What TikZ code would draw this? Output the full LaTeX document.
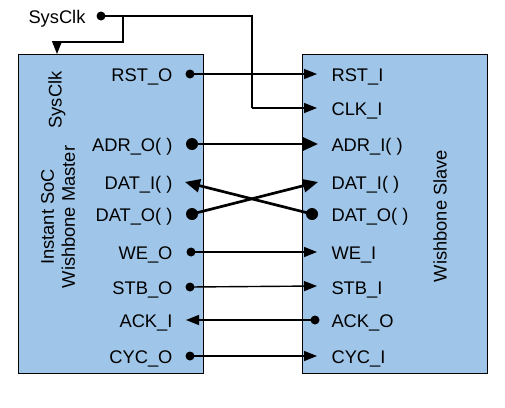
\documentclass[tikz,border=0pt]{standalone}
\usepackage{fontspec}
\setmainfont{Liberation Sans}
\usetikzlibrary{arrows.meta}
\definecolor{boxblue}{HTML}{9FC5E8}
\begin{document}
\begin{tikzpicture}[x=1pt,y=-1pt,
  font=\fontsize{18.3}{21}\selectfont,
  blk/.style={draw=black, line width=1pt, fill=boxblue, inner sep=0pt, anchor=north west},
  wire/.style={line width=1.4pt, -{Triangle[length=13pt,width=10pt]}},
  bus/.style={line width=2.7pt, -{Triangle[length=15pt,width=13pt]}},
  plain/.style={line width=1.4pt},
  dot/.style={circle, fill=black, inner sep=0pt, minimum size=9pt},
  bigdot/.style={circle, fill=black, inner sep=0pt, minimum size=12pt},
  lpin/.style={anchor=base east},
  rpin/.style={anchor=base west}]
\useasboundingbox (0,0) rectangle (505,407);
\fill[white] (0,0) rectangle (505,407);

% blocks
\node[blk, minimum width=185pt, minimum height=319pt] (master) at (18,54) {};
\node[blk, minimum width=185pt, minimum height=319pt] (slave) at (302,54) {};

% block titles
\node[rotate=90] (mclk) at (57,100) {SysClk};
\node[rotate=90, align=center] (mtitle) at (58,217) {Instant SoC\\Wishbone Master};
\node[rotate=90] (stitle) at (440,216) {Wishbone Slave};

% SysClk source
\node[anchor=base east] (sysclk) at (89,23) {SysClk};
\node[dot] (sdot) at (101,16) {};
\coordinate (c1) at (252,16);
\coordinate (c2) at (252,108);
\coordinate (b1) at (123,16);
\coordinate (b2) at (123,42);
\coordinate (b3) at (57,42);
\coordinate (b4) at (57,54);

% master pin labels
\node[lpin] (mRST) at (176,81) {RST\_O};
\node[lpin] (mADR) at (176,151) {ADR\_O( )};
\node[lpin] (mDATI) at (176,189) {DAT\_I( )};
\node[lpin] (mDATO) at (176,221) {DAT\_O( )};
\node[lpin] (mWE) at (176,259) {WE\_O};
\node[lpin] (mSTB) at (176,294) {STB\_O};
\node[lpin] (mACK) at (176,327) {ACK\_I};
\node[lpin] (mCYC) at (176,363) {CYC\_O};

% slave pin labels
\node[rpin] (sRST) at (328,81) {RST\_I};
\node[rpin] (sCLK) at (328,115) {CLK\_I};
\node[rpin] (sADR) at (328,151) {ADR\_I( )};
\node[rpin] (sDATI) at (328,189) {DAT\_I( )};
\node[rpin] (sDATO) at (328,221) {DAT\_O( )};
\node[rpin] (sWE) at (328,259) {WE\_I};
\node[rpin] (sSTB) at (328,294) {STB\_I};
\node[rpin] (sACK) at (328,327) {ACK\_O};
\node[rpin] (sCYC) at (328,363) {CYC\_I};

% pin points
\node[dot] (pRST) at (190,74) {};
\node[bigdot] (pADR) at (192,144) {};
\coordinate (pDATI) at (185,182);
\node[bigdot] (pDATO) at (192,214) {};
\node[dot] (pWE) at (191,252) {};
\node[dot] (pSTB) at (190,287) {};
\coordinate (pACK) at (186,320);
\node[dot] (pCYC) at (190,356) {};

\coordinate (qRST) at (317,74);
\coordinate (qCLK) at (317,108);
\coordinate (qADR) at (318,144);
\coordinate (qDATI) at (318,182);
\node[bigdot] (qDATO) at (312,214) {};
\coordinate (qWE) at (317,252);
\coordinate (qSTB) at (317,286);
\node[dot] (qACK) at (315,320) {};
\coordinate (qCYC) at (317,356);

% clock wiring
\draw[plain] (sdot.center) -- (c1) -- (c2);
\draw[wire] (c2) -- (qCLK);
\draw[wire] (sdot.center) -- (b1) -- (b2) -- (b3) -- (b4);

% signals
\draw[wire] (pRST.center) -- (qRST);
\draw[bus] (pADR.center) -- (qADR);
\draw[bus] (qDATO.center) -- (pDATI);
\draw[bus] (pDATO.center) -- (qDATI);
\draw[wire] (pWE.center) -- (qWE);
\draw[wire] (pSTB.center) -- (qSTB);
\draw[wire] (qACK.center) -- (pACK);
\draw[wire] (pCYC.center) -- (qCYC);
\end{tikzpicture}
\end{document}
